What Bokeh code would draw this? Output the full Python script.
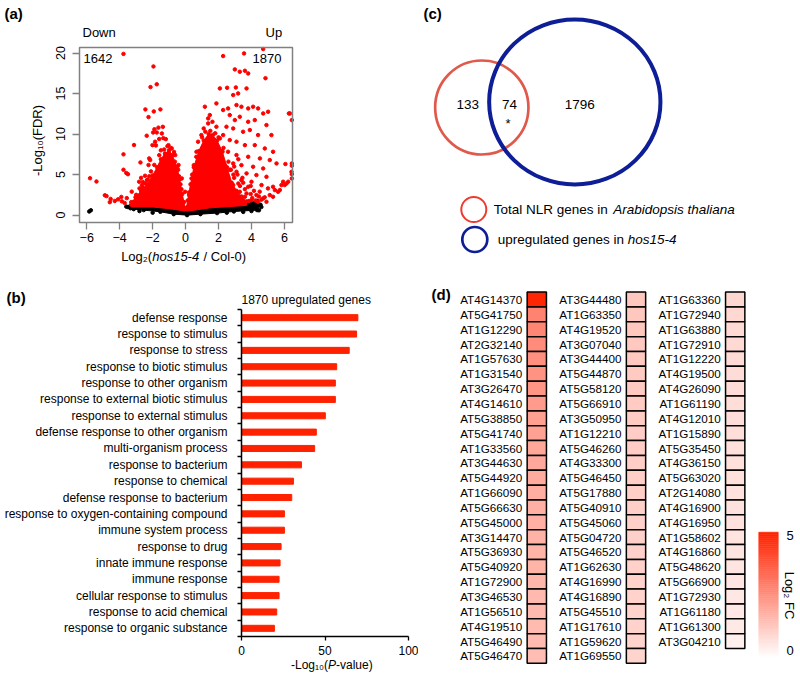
import math
from bokeh.plotting import figure
from bokeh.layouts import row, column
from bokeh.models import Range1d, FixedTicker, Label, LinearColorMapper, ColumnDataSource
from bokeh.embed import file_html
from bokeh.resources import INLINE
from bokeh.core.properties import value

FONT = "Liberation Sans"

# ---------------- (a) volcano plot data ----------------
down_count = 1642
up_count = 1870
x_ticks_a = [-6, -4, -2, 0, 2, 4, 6]
y_ticks_a = [0, 5, 10, 15, 20]

# scattered significant (red) points
red_x = [-3.77, -1.95, -2.13, -1.75, -2.44, -1.53, -1.93, -2.25, -1.65, -1.38, -1.89, -2.36, -1.97,
         -3.13, -3.77, -2.74, -3.77, -3.6, -3.5, -5.8, -5.41, -4.9, -4.8, -4.55, -4.3, -4.1, -3.9,
         -2.66, -2.6, -2.8, -3.27, -3.57, -3.87, -2.7, -2.2, -2.1, -2.15, -1.5, -1.6, -1.8, -1.35,
         -4.6, -3.7, -3.3,
         -3.16, -2.96, -2.86, -2.66, -2.56, -2.46, -2.35, -2.82, -2.46, -2.25, -2.21, -2.01, -1.85,
         -1.75, -1.44, -1.2, -1.04, -0.84, -0.63, -0.43, -0.23, -0.03, -0.15, 0.1, -0.05,
         4.71, 2.28, 3.55, 4.85, 2.99, 3.29, 3.6, 3.8, 2.08, 2.52, 3.05, 3.7, 3.19, 2.89, 1.17, 1.87,
         1.47, 1.37, 2.28, 2.58, 3.09, 3.39, 3.8, 4.1, 4.4, 4.71, 5.01, 6.33, 6.45, 2.68, 2.99, 3.29,
         3.8, 4.2, 4.91, 2.48, 2.89, 3.49, 3.9, 4.4, 5.21, 2.28, 2.68, 3.09, 3.6, 4.2, 4.81, 5.31,
         2.58, 3.09, 3.8, 4.51, 5.11, 2.89, 3.39, 4.1, 4.71, 5.52, 3.09, 3.7, 4.3, 4.91, 3.39, 4.0,
         4.61, 5.31, 5.92, 6.13, 5.62, 5.11, 4.71, 4.3, 3.7, 6.45, 6.45, 6.43, 5.82, 5.42, 6.27,
         6.06, 6.45, 6.45,
         0.21, 0.36, 0.5, 0.66, 0.76, 0.96, 1.1, 1.37, 1.63, 1.87, 2.08, 2.24, 2.38, 2.58, 2.89,
         3.29, 3.6, 4.0, 4.4, 4.91, 5.31, 5.72, 6.02, 6.23, 3.45, 3.95, 2.75, 3.2, 4.5, 5.0,
         3.85, 4.05, 4.25, 3.95, 3.6, 3.8, 4.15, 4.45, 3.3, 3.5, 2.95, 3.15, 2.7, 2.95, 4.6, 4.8,
         -1.1, -0.9, -1.3, -0.7, -1.6, -1.9, -2.3, -2.6, -3.0, -0.45, -0.35, -0.25,
         1.2, 1.5, 1.8, 1.0, 2.0, 2.3, 2.6, 0.65, 0.4, 0.2, 2.9, 3.2]
red_y = [19.9, 18.35, 15.8, 16.15, 13.05, 13.05, 12.8, 12.1, 10.8, 10.9, 10.6, 9.8, 10.2,
         8.65, 7.5, 6.5, 5.6, 5.2, 5.05, 4.55, 4.15, 2.45, 2.35, 2.0, 1.75, 1.95, 2.25,
         3.7, 4.1, 3.3, 2.9, 2.1, 1.7, 4.6, 4.8, 5.4, 6.8, 8.0, 9.4, 8.6, 9.5,
         1.6, 1.5, 1.6,
         1.65, 1.85, 2.27, 2.88, 3.29, 3.91, 4.32, 4.12, 4.86, 6.18, 7.0, 8.64, 9.06,
         10.2, 10.08, 9.38, 8.64, 8.23, 7.41, 6.18, 4.53, 2.88, 1.0, 1.0, 0.8,
         20.5, 19.63, 19.96, 16.9, 17.99, 17.7, 17.82, 17.49, 15.64, 15.72, 15.76, 15.64, 15.02,
         14.82, 13.38, 13.79, 12.35, 11.94, 12.97, 13.17, 13.58, 13.38, 13.17, 13.38, 13.17, 12.55,
         12.76, 12.55, 11.73, 12.35, 11.73, 12.14, 11.52, 11.73, 11.11, 10.91, 10.7, 10.29, 10.5,
         9.88, 9.88, 9.88, 9.26, 9.06, 8.64, 8.64, 8.23, 7.82, 7.82, 7.41, 7.2, 7.0, 6.79, 6.38,
         6.17, 5.97, 5.76, 6.38, 5.35, 5.15, 4.94, 4.73, 4.32, 4.12, 3.71, 3.5, 4.12, 3.91, 2.88,
         2.47, 2.06, 2.47, 2.68, 6.38, 4.53, 5.35, 3.71, 3.09, 12.55, 6.3, 6.1, 5.06,
         2.47, 4.53, 6.17, 7.82, 9.06, 9.88, 10.7, 11.32, 11.52, 10.91, 9.47, 7.82, 6.17, 4.73,
         3.71, 2.88, 2.27, 1.85, 1.65, 1.65, 2.27, 3.09, 3.71, 4.12, 4.6, 3.6, 5.6, 6.9, 2.9, 3.3,
         1.75, 2.1, 1.8, 2.6, 3.2, 3.5, 3.0, 2.3, 3.6, 4.0, 4.6, 5.0, 5.6, 6.0, 1.9, 2.2,
         8.5, 8.3, 8.1, 7.8, 7.4, 6.2, 4.4, 3.4, 2.5, 5.6, 4.4, 3.2,
         10.3, 10.4, 10.1, 9.6, 9.6, 8.3, 6.6, 7.2, 5.0, 2.8, 5.0, 3.9]

# dense clouds (outlines of the solid point masses)
left_cloud_x = [-3.3, -3.04, -2.7, -2.34, -2.0, -1.73, -1.5, -1.25, -1.0, -0.8, -0.65, -0.51,
                -0.4, -0.31, -0.2, -0.1, -0.02, -0.02, -1.0, -2.0, -3.3]
left_cloud_y = [1.3, 2.2, 3.0, 3.8, 4.9, 5.9, 6.9, 7.6, 8.0, 7.4, 6.6, 5.9, 4.8, 3.8, 2.6, 1.6,
                0.8, 0.5, 0.8, 1.0, 1.0]
right_cloud_x = [0.05, 0.12, 0.3, 0.5, 0.8, 1.1, 1.4, 1.65, 1.91, 2.22, 2.52, 2.8, 3.1, 3.4,
                 3.7, 3.7, 3.0, 1.5, 0.5, 0.05]
right_cloud_y = [0.8, 1.8, 3.8, 5.9, 7.9, 9.2, 10.0, 9.9, 9.2, 7.9, 5.9, 4.0, 3.0, 2.3,
                 1.7, 1.2, 1.1, 0.9, 0.6, 0.5]
black_band_x = [-3.35, -2.54, -1.53, -0.72, -0.21, 0.09, 0.9, 1.91, 2.93, 3.74, 4.34, 4.55,
                4.34, 2.93, 1.91, 0.9, 0.09, -0.72, -1.53, -2.54, -3.15]
black_band_y = [1.15, 1.28, 1.03, 0.86, 0.74, 0.86, 0.95, 1.03, 1.28, 1.56, 1.77, 1.28,
                0.62, 0.45, 0.25, 0.12, 0.0, 0.12, 0.41, 0.62, 0.74]
black_x = [-5.85, -5.75, -3.5, -3.35, -3.2, 4.45, 4.6, 4.2, 3.9, 4.0, -2.8, -2.0, 2.5, 3.5, -3.6]
black_y = [0.45, 0.6, 1.0, 0.85, 1.2, 0.6, 1.0, 1.3, 1.5, 0.5, 0.5, 0.3, 0.3, 0.4, 1.05]

# ---------------- (b) GO enrichment ----------------
go_title = "1870 upregulated genes"
go_terms = ["defense response", "response to stimulus", "response to stress",
            "response to biotic stimulus", "response to other organism",
            "response to external biotic stimulus", "response to external stimulus",
            "defense response to other organism", "multi-organism process",
            "response to bacterium", "response to chemical", "defense response to bacterium",
            "response to oxygen-containing compound", "immune system process",
            "response to drug", "innate immune response", "immune response",
            "cellular response to stimulus", "response to acid chemical",
            "response to organic substance"]
go_values = [69.7, 68.9, 64.5, 57.0, 56.2, 56.2, 50.2, 44.8, 43.8, 35.9, 31.1, 30.1,
             25.7, 25.7, 23.7, 23.1, 22.5, 22.5, 21.1, 19.7]
x_ticks_b = [0, 50, 100]

# ---------------- (c) Venn ----------------
nlr_only = 133
overlap = 74
up_only = 1796

# ---------------- (d) heat map ----------------
genes_col1 = ["AT4G14370", "AT5G41750", "AT1G12290", "AT2G32140", "AT1G57630", "AT1G31540",
              "AT3G26470", "AT4G14610", "AT5G38850", "AT5G41740", "AT1G33560", "AT3G44630",
              "AT5G44920", "AT1G66090", "AT5G66630", "AT5G45000", "AT3G14470", "AT5G36930",
              "AT5G40920", "AT1G72900", "AT3G46530", "AT1G56510", "AT4G19510", "AT5G46490",
              "AT5G46470"]
genes_col2 = ["AT3G44480", "AT1G63350", "AT4G19520", "AT3G07040", "AT3G44400", "AT5G44870",
              "AT5G58120", "AT5G66910", "AT3G50950", "AT1G12210", "AT5G46260", "AT4G33300",
              "AT5G46450", "AT5G17880", "AT5G40910", "AT5G45060", "AT5G04720", "AT5G46520",
              "AT1G62630", "AT4G16990", "AT4G16890", "AT5G45510", "AT1G17610", "AT1G59620",
              "AT1G69550"]
genes_col3 = ["AT1G63360", "AT1G72940", "AT1G63880", "AT1G72910", "AT1G12220", "AT4G19500",
              "AT4G26090", "AT1G61190", "AT4G12010", "AT1G15890", "AT5G35450", "AT4G36150",
              "AT5G63020", "AT2G14080", "AT4G16900", "AT4G16950", "AT1G58602", "AT4G16860",
              "AT5G48620", "AT5G66900", "AT1G72930", "AT1G61180", "AT1G61300", "AT3G04210"]
fc_col1 = [4.9, 2.8, 2.75, 2.6, 2.5, 2.45, 2.4, 2.25, 2.15, 2.1, 2.0, 1.95, 1.9, 1.85, 1.8,
           1.8, 1.75, 1.7, 1.7, 1.65, 1.6, 1.6, 1.55, 1.55, 1.5]
fc_col2 = [1.28, 1.26, 1.25, 1.24, 1.22, 1.2, 1.2, 1.18, 1.16, 1.15, 1.14, 1.12, 1.1, 1.1,
           1.08, 1.07, 1.06, 1.05, 1.04, 1.03, 1.02, 1.01, 1.0, 0.99, 0.98]
fc_col3 = [0.9, 0.88, 0.85, 0.85, 0.82, 0.8, 0.8, 0.78, 0.75, 0.75, 0.72, 0.7, 0.7, 0.68,
           0.65, 0.65, 0.62, 0.6, 0.6, 0.58, 0.55, 0.52, 0.5, 0.35]
fc_low, fc_high = 0, 5

# ---------------- helpers ----------------
def lin(p0, p1, r0, r1):
    return lambda p: r0 + (p - p0) * (r1 - r0) / (p1 - p0)

def add_label(p, fx, fy, px, py, text, size="13px", align="left", style="normal",
              angle=0.0, color="black"):
    p.add_layout(Label(x=fx(px), y=fy(py), text=text, text_font=FONT, text_font_size=size,
                       text_align=align, text_baseline="middle", text_font_style=style,
                       angle=angle, text_color=color))

def panel_fig(left, top, w, h, fx, fy, axes=False):
    # the frame fills the whole panel; ranges map page pixels -> data units
    kw = {} if axes else dict(x_axis_location=None, y_axis_location=None)
    p = figure(width=w, height=h, x_range=Range1d(fx(left), fx(left + w)),
               y_range=Range1d(fy(top + h), fy(top)), output_backend="svg",
               toolbar_location=None, min_border=0, **kw)
    p.grid.visible = False
    p.outline_line_color = None
    return p

# page split: left column 418 px, right column 382 px; top row 276 px, bottom row 400 px
LW, RW, TH, BH = 418, 382, 276, 400

# ================= (a) =================
XA0, XA1, YA0, YA1 = -6.44, 6.49, -0.91, 20.69
fxa = lin(79, 292, XA0, XA1)
fya = lin(222, 47, YA0, YA1)
pa = panel_fig(0, 0, LW, TH, fxa, fya, axes=True)
pa.xaxis.fixed_location = YA0
pa.yaxis.fixed_location = XA0
pa.xaxis.bounds = (XA0, XA1)
pa.yaxis.bounds = (YA0, YA1)
pa.xaxis.ticker = FixedTicker(ticks=x_ticks_a)
pa.yaxis.ticker = FixedTicker(ticks=y_ticks_a)
pa.yaxis.major_label_orientation = "vertical"
for ax in pa.axis:
    ax.axis_line_color = None
    ax.major_tick_line_color = "#808080"
    ax.major_tick_line_width = 1.3
    ax.major_tick_out = 7
    ax.major_tick_in = 0
    ax.minor_tick_line_color = None
    ax.major_label_text_font = FONT
    ax.major_label_text_font_size = "12.5px"
    ax.major_label_text_color = "black"
pa.xaxis.major_label_standoff = 3
pa.yaxis.major_label_standoff = 7

pa.patch(black_band_x, black_band_y, color="black")
pa.scatter(black_band_x, black_band_y, size=3.5, color="black")
pa.scatter(black_x, black_y, size=3.5, color="black")
pa.patch(left_cloud_x, left_cloud_y, color="#FF0000")
pa.patch(right_cloud_x, right_cloud_y, color="#FF0000")
pa.scatter(left_cloud_x[:16], left_cloud_y[:16], size=3.5, color="#FF0000")
pa.scatter(right_cloud_x[:15], right_cloud_y[:15], size=3.5, color="#FF0000")
pa.scatter(red_x, red_y, size=3.5, color="#FF0000")
# plot box
pa.quad(left=XA0, right=XA1, bottom=YA0, top=YA1, fill_color=None,
        line_color="#808080", line_width=1.5)

add_label(pa, fxa, fya, 4, 13, "(a)", size="15px", style="bold")
add_label(pa, fxa, fya, 82, 32, "Down")
add_label(pa, fxa, fya, 265, 32, "Up")
add_label(pa, fxa, fya, 83, 58, str(down_count))
add_label(pa, fxa, fya, 252, 58, str(up_count))
add_label(pa, fxa, fya, 37, 140, "-Log\u2081\u2080(FDR)", angle=math.pi / 2, align="center")
add_label(pa, fxa, fya, 151.7, 256, "Log\u2082(", align="right")
add_label(pa, fxa, fya, 151.7, 256, "hos15-4", style="italic")
add_label(pa, fxa, fya, 203.0, 256, "/ Col-0)")

# ================= (b) =================
NB = len(go_terms)
fxb = lin(241, 408, 0, 100)
fyb = lin(309, 636, -0.5, NB - 0.5)
pb = panel_fig(0, TH, LW, BH, fxb, fyb, axes=True)
pb.hbar(y=list(range(NB)), left=0, right=go_values, height=0.37, color="#FF2200")
pb.xaxis.fixed_location = NB - 0.5
pb.yaxis.fixed_location = 0
pb.xaxis.bounds = (0, 100)
pb.yaxis.bounds = (-0.5, NB - 0.5)
pb.yaxis.ticker = FixedTicker(ticks=list(range(NB)),
                              minor_ticks=[i - 0.5 for i in range(NB + 1)])
pb.yaxis.major_label_overrides = {i: t for i, t in enumerate(go_terms)}
pb.yaxis.major_tick_out = 0
pb.yaxis.major_tick_in = 0
pb.yaxis.minor_tick_out = 4
pb.yaxis.minor_tick_in = 0
pb.yaxis.minor_tick_line_color = "black"
pb.yaxis.minor_tick_line_width = 1.3
pb.yaxis.major_label_standoff = 10
pb.xaxis.ticker = FixedTicker(ticks=x_ticks_b)
pb.xaxis.major_tick_out = 4
pb.xaxis.major_tick_in = 0
pb.xaxis.minor_tick_line_color = None
pb.xaxis.major_label_standoff = 5
for ax in pb.axis:
    ax.axis_line_color = "black"
    ax.axis_line_width = 1.5
    ax.major_tick_line_color = "black"
    ax.major_tick_line_width = 1.3
    ax.major_label_text_font = FONT
    ax.major_label_text_font_size = "12px"
    ax.major_label_text_color = "black"

add_label(pb, fxb, fyb, 6, 296.5, "(b)", size="15px", style="bold")
add_label(pb, fxb, fyb, 241, 299, go_title, size="12px")
add_label(pb, fxb, fyb, 327.5, 664, "-Log\u2081\u2080(", size="12px", align="right")
add_label(pb, fxb, fyb, 327.5, 664, "P", size="12px", style="italic")
add_label(pb, fxb, fyb, 335.5, 664, "-value)", size="12px")

# ================= (c) =================
ident = lambda v: v
pc = panel_fig(LW, 0, RW, TH, ident, ident)
pc.ellipse(x=[481.3], y=[107], width=[93.3], height=[94], fill_color=None,
           line_color="#E05A4C", line_width=2.7)
pc.ellipse(x=[574.3], y=[101.5], width=[171.3], height=[165], fill_color=None,
           line_color="#0E1E96", line_width=4)
pc.ellipse(x=[473.3], y=[209], width=[25], height=[25], fill_color=None,
           line_color="#EE3B30", line_width=2)
pc.ellipse(x=[474.3], y=[239], width=[25], height=[25], fill_color=None,
           line_color="#0E1E96", line_width=2.7)
add_label(pc, ident, ident, 423, 13, "(c)", size="15px", style="bold")
add_label(pc, ident, ident, 467.3, 103.5, str(nlr_only), size="13.5px", align="center")
add_label(pc, ident, ident, 509, 103.5, str(overlap), size="13.5px", align="center")
add_label(pc, ident, ident, 507.5, 123, "*", size="13px", align="center")
add_label(pc, ident, ident, 579.3, 103.5, str(up_only), size="13.5px", align="center")
add_label(pc, ident, ident, 493.3, 209, "Total NLR genes in ", size="13.5px")
add_label(pc, ident, ident, 612.7, 209, "Arabidopsis thaliana", size="13.5px", style="italic")
add_label(pc, ident, ident, 497.3, 239, "upregulated genes in ", size="13.5px")
add_label(pc, ident, ident, 627.3, 239, "hos15-4", size="13.5px", style="italic")

# ================= (d) =================
COL_PX, ROW_PX = 99.2, 14.85
COL0_PX, ROW0_PX = 536.3, 299.0
fxd = lambda px: (px - COL0_PX) / COL_PX
fyd = lambda py: (py - ROW0_PX) / ROW_PX
pd_ = panel_fig(LW, TH, RW, BH, fxd, fyd)

def mix(t):
    r = round(255 + (255 - 255) * t)
    g = round(255 + (34 - 255) * t)
    b = round(255 + (0 - 255) * t)
    return "#%02x%02x%02x" % (r, g, b)

palette = [mix(i / 255) for i in range(256)]
cmap = LinearColorMapper(palette=palette, low=fc_low, high=fc_high)

cols, rows, names, fcs = [], [], [], []
for ci, (gs, vs) in enumerate([(genes_col1, fc_col1), (genes_col2, fc_col2), (genes_col3, fc_col3)]):
    for ri, (g, v) in enumerate(zip(gs, vs)):
        cols.append(ci)
        rows.append(ri)
        names.append(g)
        fcs.append(v)
src = ColumnDataSource(dict(col=cols, row=rows, gene=names, fc=fcs,
                            lab=[c - 0.146 for c in cols]))
cell_w = 19.3 / COL_PX
pd_.rect(x="col", y="row", width=cell_w, height=1, source=src,
         fill_color={"field": "fc", "transform": cmap}, line_color="black", line_width=1.5)
pd_.text(x="lab", y="row", text="gene", source=src, text_align="right",
         text_baseline="middle", text_font=value(FONT), text_font_size="11.7px",
         text_color="black")

# colour bar (legend for the colour mapper)
cb_top, cb_bot, cb_l, cb_r = 531.7, 656.7, 758.3, 777.7
nseg = 60
seg_bottom, seg_top, seg_val = [], [], []
for k in range(nseg):
    y0 = cb_bot - (cb_bot - cb_top) * k / nseg
    y1 = cb_bot - (cb_bot - cb_top) * (k + 1) / nseg
    seg_bottom.append(fyd(y0))
    seg_top.append(fyd(y1))
    seg_val.append(fc_low + (fc_high - fc_low) * (k + 0.5) / nseg)
cb_src = ColumnDataSource(dict(b=seg_bottom, t=seg_top, v=seg_val))
pd_.quad(left=fxd(cb_l), right=fxd(cb_r), bottom="b", top="t", source=cb_src,
         fill_color={"field": "v", "transform": cmap},
         line_color={"field": "v", "transform": cmap}, line_width=0.6)
add_label(pd_, fxd, fyd, 431, 294, "(d)", size="15px", style="bold")
add_label(pd_, fxd, fyd, 786, 535, str(fc_high), size="13px")
add_label(pd_, fxd, fyd, 786, 650, str(fc_low), size="13px")
add_label(pd_, fxd, fyd, 789, 595, "Log\u2082 FC", size="13px", align="center",
          angle=-math.pi / 2)

layout = row(column(pa, pb), column(pc, pd_))
open("out.html", "w").write(file_html(layout, INLINE))
